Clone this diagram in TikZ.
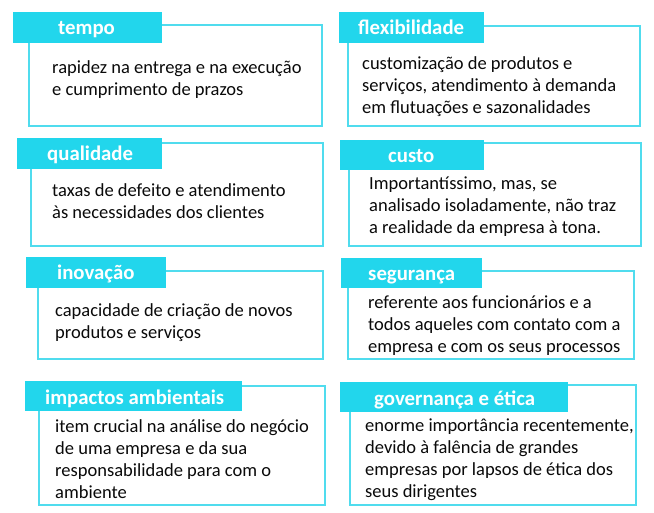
\documentclass[tikz,border=0pt]{standalone}
\usepackage{fontspec}
\setmainfont{Carlito}
\definecolor{tagcyan}{RGB}{34,214,236}
\definecolor{linecyan}{RGB}{80,220,238}
\definecolor{txt}{RGB}{10,10,10}
\tikzset{
  bodybox/.style={draw=linecyan, line width=1.6pt, fill=white},
  tagbox/.style={fill=tagcyan},
  tagtext/.style={anchor=base west, inner sep=0pt, yshift=-2pt, text=white, font=\fontsize{20.8}{24}\selectfont\bfseries},
  bodytext/.style={anchor=north west, inner sep=0pt, yshift=13.26pt, text=txt, align=left,
    font=\fontsize{18.5}{21.8}\selectfont, execute at begin node=\strut},
}
\begin{document}
\begin{tikzpicture}[x=1pt,y=-1pt]
\useasboundingbox[fill=white] (0,0) rectangle (654,513);
% tempo
\draw[bodybox] (29,25) rectangle (322,126);
\fill[tagbox] (13,12) rectangle (162,43);
\node[tagtext] (t1) at (58,33) {tempo};
\node[bodytext] (b1) at (52,74) {rapidez na entrega e na execução\\e cumprimento de prazos};
% flexibilidade
\draw[bodybox] (348,26) rectangle (640,126);
\fill[tagbox] (339,12) rectangle (484,43);
\node[tagtext] (t2) at (358,33) {flexibilidade};
\node[bodytext] (b2) at (362,70) {customização de produtos e\\serviços, atendimento à demanda\\em flutuações e sazonalidades};
% qualidade
\draw[bodybox] (31,143) rectangle (323,246);
\fill[tagbox] (17,138) rectangle (162,169);
\node[tagtext] (t3) at (47,159) {qualidade};
\node[bodytext] (b3) at (52,197) {taxas de defeito e atendimento\\às necessidades dos clientes};
% custo
\draw[bodybox] (349,143) rectangle (641,246);
\fill[tagbox] (340,140) rectangle (484,170);
\node[tagtext] (t4) at (388,161) {custo};
\node[bodytext] (b4) at (369,190) {Importantíssimo, mas, se\\analisado isoladamente, não traz\\a realidade da empresa à tona.};
% inovacao
\draw[bodybox] (38,271) rectangle (323,359);
\fill[tagbox] (26,257) rectangle (166,288);
\node[tagtext] (t5) at (57,278) {inovação};
\node[bodytext] (b5) at (55,317) {capacidade de criação de novos\\produtos e serviços};
% seguranca
\draw[bodybox] (348,271) rectangle (634,359);
\fill[tagbox] (341,258) rectangle (482,288);
\node[tagtext] (t6) at (368,279) {segurança};
\node[bodytext] (b6) at (368,309) {referente aos funcionários e a\\todos aqueles com contato com a\\empresa e com os seus processos};
% impactos
\draw[bodybox] (39,386) rectangle (325,505);
\fill[tagbox] (25,381) rectangle (242,411);
\node[tagtext] (t7) at (45,402) {impactos ambientais};
\node[bodytext] (b7) at (55,433) {item crucial na análise do negócio\\de uma empresa e da sua\\responsabilidade para com o\\ambiente};
% governanca
\draw[bodybox] (350,385) rectangle (636,505);
\fill[tagbox] (340,382) rectangle (568,412);
\node[tagtext] (t8) at (374,403) {governança e ética};
\node[bodytext] (b8) at (365,432) {enorme importância recentemente,\\devido à falência de grandes\\empresas por lapsos de ética dos\\seus dirigentes};
\end{tikzpicture}
\end{document}
